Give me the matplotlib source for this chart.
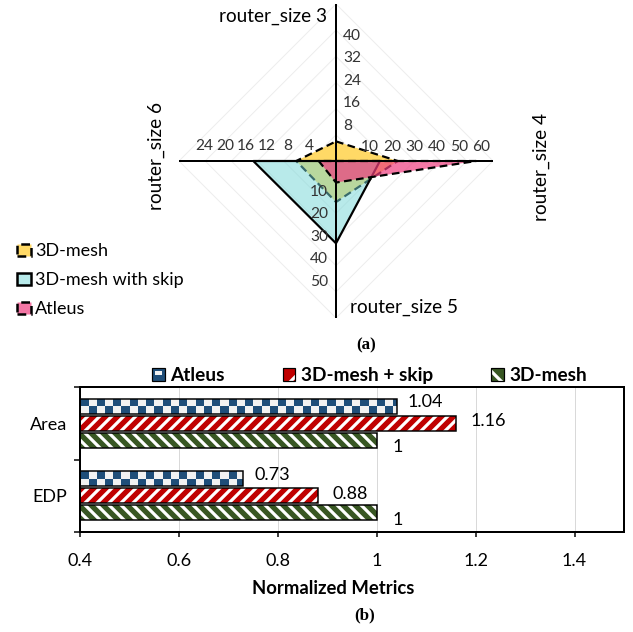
import numpy as np
import matplotlib
matplotlib.use('Agg')
import matplotlib.pyplot as plt
from matplotlib.patches import Polygon, Patch, Rectangle
from matplotlib.colors import ListedColormap, to_rgba
from matplotlib.legend_handler import HandlerBase

plt.rcParams['font.family'] = ['Lato', 'DejaVu Sans']
plt.rcParams['hatch.linewidth'] = 3.2

# radar (a): one scale per spoke, spokes go top, right, bottom, left
spokes = ['router_size 3', 'router_size 4', 'router_size 5', 'router_size 6']
spoke_max = [56, 70, 70, 30]
spoke_ticks = [[8, 16, 24, 32, 40],
               [10, 20, 30, 40, 50, 60],
               [10, 20, 30, 40, 50],
               [4, 8, 12, 16, 20, 24]]
mesh_vals = [7, 27.5, 18.3, 7.6]
skip_vals = [0, 19.6, 36.7, 15.8]
atleus_vals = [0, 62.5, 9.6, 3.3]

# bars (b)
metrics = ['Area', 'EDP']
atleus_norm = [1.04, 0.73]
skip_norm = [1.16, 0.88]
mesh_norm = [1, 1]

BLUE = '#1F4E79'
LIGHT = '#F2F2F2'
RED = '#C00000'
GREEN = '#385723'

W, H = 633, 632
fig = plt.figure(figsize=(W / 72, H / 72), dpi=72)

# ---------------- radar ----------------
cx, cy, arm = 336, 161, 157
px = 1 / arm
rax = fig.add_axes([(cx - arm) / W, 1 - (cy + arm) / H, 2 * arm / W, 2 * arm / H])
rax.set_xlim(-1, 1)
rax.set_ylim(-1, 1)
rax.axis('off')

dirs = np.array([[0, 1], [1, 0], [0, -1], [-1, 0]])


def radar_xy(vals):
    frac = np.array(vals, dtype=float) / np.array(spoke_max)
    return dirs * frac[:, None]


for f in np.arange(1, 7) / 6:
    rax.add_patch(Polygon(dirs * f, closed=True, fill=False, ec='#EDEDED', lw=1, zorder=1))

series = [
    ('3D-mesh', mesh_vals, to_rgba('#FFD966', 1.0), (0, (3.5, 2))),
    ('3D-mesh with skip', skip_vals, to_rgba('#73D7D7', 0.5), '-'),
    ('Atleus', atleus_vals, to_rgba('#EE3E7F', 0.7), (0, (3.5, 2))),
]
handles = []
for i, (name, vals, fc, ls) in enumerate(series):
    rax.add_patch(Polygon(radar_xy(vals), closed=True, facecolor=fc, edgecolor='black',
                          lw=2.2, linestyle=ls, zorder=2 + i))
    handles.append(Patch(facecolor=fc, edgecolor='black', linestyle=ls, linewidth=2.5, label=name))

rax.axhline(0, color='black', lw=2, zorder=6)
rax.axvline(0, color='black', lw=2, zorder=6)

tfs = 15.5
tc = '#333333'
for v in spoke_ticks[0]:
    rax.text(7 * px, v / spoke_max[0] + 13 * px, str(v), ha='left', va='center', fontsize=tfs, color=tc)
for v in spoke_ticks[1]:
    rax.text(v / spoke_max[1] + 11 * px, 14 * px, str(v), ha='center', va='center', fontsize=tfs, color=tc)
for v in spoke_ticks[2]:
    rax.text(-8 * px, -(v / spoke_max[2] + 8.6 * px), str(v), ha='right', va='center', fontsize=tfs, color=tc)
for v in spoke_ticks[3]:
    rax.text(-(v / spoke_max[3] + 6 * px), 15 * px, str(v), ha='center', va='center', fontsize=tfs, color=tc)

lfs = 19
rax.text(-0.06, 0.92, spokes[0], ha='right', va='center', fontsize=lfs)
rax.text(1.31, -0.04, spokes[1], ha='center', va='center', rotation=90, fontsize=lfs)
rax.text(0.089, -0.93, spokes[2], ha='left', va='center', fontsize=lfs)
rax.text(-1.146, 0.03, spokes[3], ha='center', va='center', rotation=90, fontsize=lfs)

fig.legend(handles=handles, loc='center left', bbox_to_anchor=(16.7 / W, 1 - 280 / H),
           frameon=False, fontsize=18, handlelength=0.78, handleheight=0.67,
           handletextpad=0.25, labelspacing=0.72, borderpad=0, borderaxespad=0)

fig.text(366 / W, 1 - 345 / H, '(a)', family=['Liberation Serif'], weight='bold', size=17,
         ha='center', va='center')

# ---------------- bars ----------------
bax = fig.add_axes([80.3 / W, 1 - 531.7 / H, 543.7 / W, 144.4 / H])
y = np.arange(len(metrics))
h = 0.215
offs = [-0.235, 0, 0.235]
cell = 1 / 60

# checker for Atleus
for yi, v in zip(y, atleus_norm):
    yc = yi + offs[0]
    xe = np.arange(0.4, v, cell)
    xe = np.append(xe, v)
    ye = [yc - h / 2, yc, yc + h / 2]
    C = np.add.outer(np.arange(2), np.arange(len(xe) - 1)) % 2
    bax.pcolormesh(xe, ye, C, cmap=ListedColormap([BLUE, LIGHT]), vmin=0, vmax=1, zorder=2)
bax.barh(y + offs[0], atleus_norm, height=h, fill=False, edgecolor='black', lw=1.5, zorder=3)

bax.barh(y + offs[1], skip_norm, height=h, color=RED, edgecolor='white', hatch='//', lw=0, zorder=2)
bax.barh(y + offs[1], skip_norm, height=h, fill=False, edgecolor='black', lw=1.5, zorder=3)

bax.barh(y + offs[2], mesh_norm, height=h, color=GREEN, edgecolor='white', hatch='\\\\', lw=0, zorder=2)
bax.barh(y + offs[2], mesh_norm, height=h, fill=False, edgecolor='black', lw=1.5, zorder=3)

lab_off = [(11, 4), (15, 2), (16, -7)]
for k, vals in enumerate([atleus_norm, skip_norm, mesh_norm]):
    for yi, v in zip(y, vals):
        bax.annotate(f'{v:g}', xy=(v, yi + offs[k]), xytext=lab_off[k], textcoords='offset points',
                     ha='left', va='center', fontsize=18)

bax.set_xlim(0.4, 1.5)
bax.set_ylim(1.5, -0.5)
xt = np.round(np.arange(0.4, 1.41, 0.2), 1)
bax.set_xticks(xt)
bax.set_xticklabels([f'{t:g}' for t in xt])
bax.tick_params(axis='x', length=5, width=1.5, pad=16, labelsize=18)
bax.set_yticks([-0.5, 0.5, 1.5])
bax.set_yticklabels([])
bax.set_yticks(y, minor=True)
bax.set_yticklabels(metrics, minor=True)
bax.tick_params(axis='y', which='major', length=6.5, width=1.5)
bax.tick_params(axis='y', which='minor', length=0, pad=13, labelsize=18)
bax.grid(axis='x', color='#D9D9D9', lw=1)
bax.set_axisbelow(True)
for s in bax.spines.values():
    s.set_linewidth(2)
    s.set_color('black')

bax.set_xlabel('Normalized Metrics', fontsize=18.5, weight='bold')
bax.xaxis.set_label_coords(0.465, -0.39)
bax.xaxis.label.set_va('center')


class BarIcon(HandlerBase):
    def __init__(self, color, hatch=None):
        super().__init__()
        self.color = color
        self.hatch = hatch

    def create_artists(self, legend, orig_handle, xdescent, ydescent, width, height, fontsize, trans):
        x0, y0 = -xdescent, -ydescent
        arts = []
        if self.hatch:
            arts.append(Rectangle((x0, y0), width, height, facecolor=self.color, edgecolor='white',
                                  hatch=self.hatch, lw=0, transform=trans))
        else:
            arts.append(Rectangle((x0, y0), width, height, facecolor=self.color, lw=0, transform=trans))
            arts.append(Rectangle((x0 + width * 0.2, y0 + height * 0.45), width * 0.6, height * 0.35,
                                  facecolor=LIGHT, lw=0, transform=trans))
        arts.append(Rectangle((x0, y0), width, height, fill=False, edgecolor='black', lw=1.2, transform=trans))
        return arts


bh = [Patch(), Patch(), Patch()]
fig.legend(bh, ['Atleus', '3D-mesh + skip', '3D-mesh'], loc='center left',
           bbox_to_anchor=(152 / W, 1 - 376 / H), ncol=3, frameon=False,
           prop={'weight': 'bold', 'size': 19}, handlelength=0.66, handleheight=0.66,
           handletextpad=0.3, columnspacing=3.05, borderpad=0, borderaxespad=0,
           handler_map={bh[0]: BarIcon(BLUE), bh[1]: BarIcon(RED, '/'), bh[2]: BarIcon(GREEN, '\\')})

fig.text(365 / W, 1 - 615 / H, '(b)', family=['Liberation Serif'], weight='bold', size=17,
         ha='center', va='center')

fig.savefig('out.png', dpi=72)
